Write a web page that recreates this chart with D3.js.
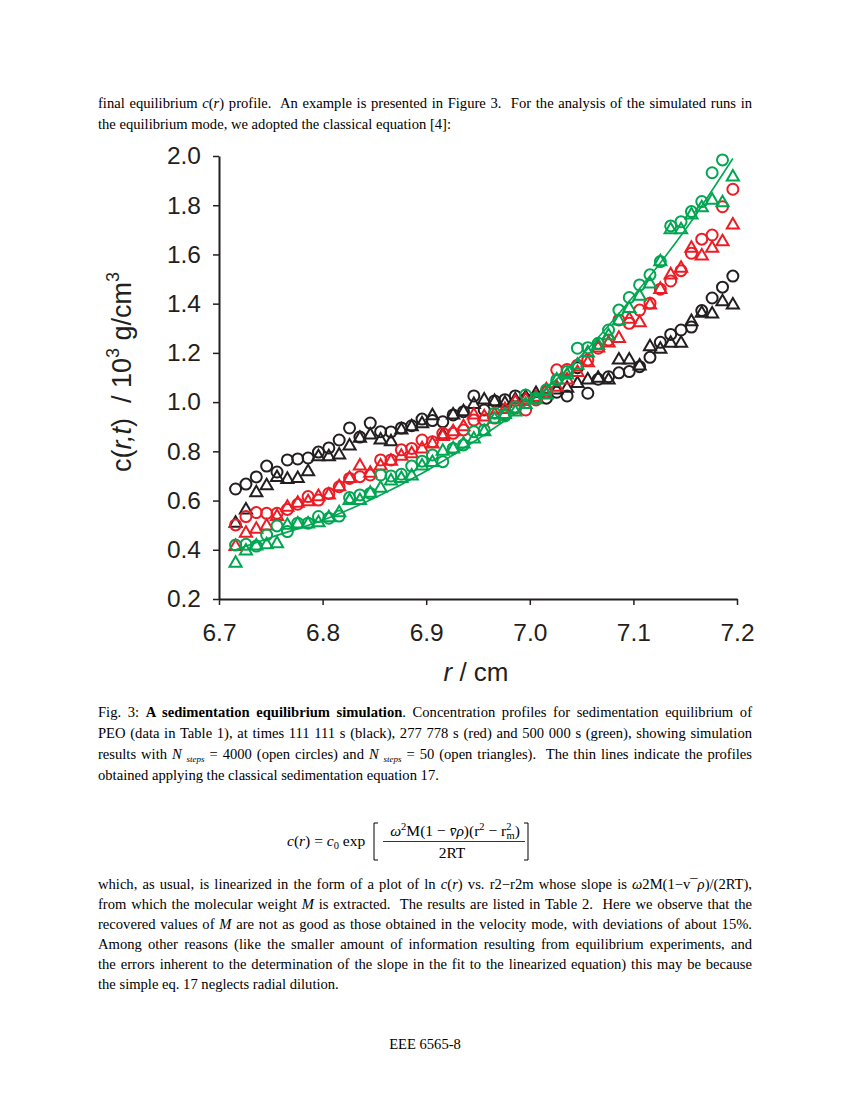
<!DOCTYPE html>
<html>
<head>
<meta charset="utf-8">
<script src="https://cdn.jsdelivr.net/npm/d3@7"></script>
<style>
body { margin: 0; background: #fff; }
#page { position: relative; width: 850px; height: 1100px; overflow: hidden; }
#page svg { position: absolute; left: 0; top: 0; }
.txt { position: absolute; left: 98px; width: 654px; font-family: 'Liberation Serif', 'Times New Roman', serif; font-size: 14.6px; line-height: 21px; color: #000; }
.ln { height: 21px; text-align: justify; text-align-last: justify; }
.ln.last { text-align-last: left; }
.st { font-size: 9px; font-style: italic; position: relative; top: 3px; }
.foot { position: absolute; left: 0; width: 850px; text-align: center; font-family: 'Liberation Serif', serif; font-size: 14.6px; }
</style>
</head>
<body>
<div id="page"></div>
<script>
'use strict';

//radial positions of the simulated points (cm)
var radii = [6.716, 6.726, 6.736, 6.746, 6.756, 6.766, 6.776, 6.786, 6.796, 6.806,
    6.816, 6.826, 6.836, 6.846, 6.856, 6.866, 6.876, 6.886, 6.896, 6.906,
    6.916, 6.926, 6.936, 6.946, 6.956, 6.966, 6.976, 6.986, 6.996, 7.006,
    7.016, 7.026, 7.036, 7.046, 7.056, 7.066, 7.076, 7.086, 7.096, 7.106,
    7.116, 7.126, 7.136, 7.146, 7.156, 7.166, 7.176, 7.186, 7.196];

//111 111 s (black)
var blackCircles = [0.647, 0.667, 0.696, 0.740, 0.716, 0.765, 0.769, 0.773, 0.797, 0.814,
    0.846, 0.895, 0.858, 0.915, 0.880, 0.879, 0.895, 0.904, 0.931, 0.925,
    0.920, 0.948, 0.961, 1.025, 0.968, 1.005, 1.010, 1.025, 1.012, 1.020,
    1.016, 1.040, 1.025, 1.140, 1.036, 1.093, 1.103, 1.119, 1.124, 1.144,
    1.182, 1.243, 1.275, 1.293, 1.305, 1.372, 1.423, 1.467, 1.512];
var blackTriangles = [0.508, 0.562, 0.632, 0.660, 0.694, 0.686, 0.690, 0.717, 0.778, 0.778,
    0.785, 0.822, 0.853, 0.866, 0.846, 0.839, 0.887, 0.900, 0.912, 0.945,
    0.866, 0.948, 0.961, 0.990, 1.009, 1.002, 0.995, 1.010, 1.020, 1.035,
    1.030, 1.049, 1.056, 1.076, 1.090, 1.097, 1.090, 1.171, 1.171, 1.147,
    1.225, 1.215, 1.239, 1.239, 1.327, 1.361, 1.358, 1.408, 1.395];

//277 778 s (red)
var redCircles = [0.501, 0.535, 0.551, 0.548, 0.548, 0.564, 0.585, 0.616, 0.602, 0.629,
    0.656, 0.690, 0.697, 0.704, 0.765, 0.765, 0.806, 0.812, 0.846, 0.839,
    0.873, 0.873, 0.887, 0.927, 0.927, 0.935, 0.950, 0.975, 0.968, 1.009,
    1.042, 1.131, 1.133, 1.150, 1.171, 1.219, 1.252, 1.334, 1.320, 1.374,
    1.402, 1.459, 1.492, 1.534, 1.605, 1.662, 1.679, 1.794, 1.865];
var redTriangles = [0.413, 0.467, 0.483, 0.497, 0.535, 0.573, 0.589, 0.595, 0.616, 0.623,
    0.656, 0.690, 0.740, 0.711, 0.740, 0.760, 0.780, 0.790, 0.810, 0.830,
    0.860, 0.880, 0.900, 0.948, 0.940, 0.950, 0.970, 1.000, 1.010, 1.020,
    1.050, 1.060, 1.090, 1.120, 1.160, 1.220, 1.240, 1.259, 1.337, 1.323,
    1.395, 1.458, 1.517, 1.544, 1.625, 1.594, 1.625, 1.652, 1.720];

//500 000 s (green)
var greenCircles = [0.419, 0.422, 0.415, 0.460, 0.497, 0.474, 0.508, 0.508, 0.535, 0.528,
    0.537, 0.612, 0.623, 0.629, 0.704, 0.700, 0.707, 0.740, 0.760, 0.785,
    0.758, 0.812, 0.826, 0.880, 0.887, 0.955, 0.944, 0.980, 1.029, 1.016,
    1.050, 1.090, 1.124, 1.219, 1.221, 1.239, 1.293, 1.374, 1.425, 1.476,
    1.517, 1.571, 1.716, 1.733, 1.774, 1.815, 1.932, 1.984, null];
var greenTriangles = [0.345, 0.395, 0.415, 0.420, 0.425, 0.500, 0.505, 0.505, 0.510, 0.530,
    0.550, 0.600, 0.600, 0.630, 0.650, 0.680, 0.690, 0.700, 0.740, 0.755,
    0.800, 0.810, 0.830, 0.850, 0.880, 0.930, 0.950, 0.960, 0.990, 1.010,
    1.030, 1.090, 1.110, 1.150, 1.200, 1.230, 1.270, 1.330, 1.380, 1.430,
    1.480, 1.570, 1.700, 1.700, 1.760, 1.790, 1.820, 1.810, 1.915];

//classical equation profile (only the green one shows)
var fitRadii = [6.716, 6.75, 6.8, 6.85, 6.9, 6.95, 7.0, 7.05, 7.1, 7.15, 7.196];
var greenFit = [0.40, 0.45, 0.52, 0.61, 0.72, 0.85, 1.00, 1.19, 1.43, 1.70, 1.99];

var xTicks = [6.7, 6.8, 6.9, 7.0, 7.1, 7.2];
var yTicks = [0.2, 0.4, 0.6, 0.8, 1.0, 1.2, 1.4, 1.6, 1.8, 2.0];

//page text, one entry per printed line
var topLines = [
    'final equilibrium <i>c</i>(<i>r</i>) profile.&nbsp; An example is presented in Figure 3.&nbsp; For the analysis of the simulated runs in',
    'the equilibrium mode, we adopted the classical equation [4]:'
];
var captionLines = [
    'Fig. 3: <b>A sedimentation equilibrium simulation</b>. Concentration profiles for sedimentation equilibrium of',
    'PEO (data in Table 1), at times 111 111 s (black), 277 778 s (red) and 500 000 s (green), showing simulation',
    'results with <i>N</i> <span class="st">steps</span> = 4000 (open circles) and <i>N</i> <span class="st">steps</span> = 50 (open triangles).&nbsp; The thin lines indicate the profiles',
    'obtained applying the classical sedimentation equation 17.'
];
var bottomLines = [
    'which, as usual, is linearized in the form of a plot of ln <i>c</i>(<i>r</i>) vs. r2\u2212r2m whose slope is <i>\u03c9</i>2M(1\u2212v\u00af<i>\u03c1</i>)/(2RT),',
    'from which the molecular weight <i>M</i> is extracted.&nbsp; The results are listed in Table 2.&nbsp; Here we observe that the',
    'recovered values of <i>M</i> are not as good as those obtained in the velocity mode, with deviations of about 15%.',
    'Among other reasons (like the smaller amount of information resulting from equilibrium experiments, and',
    'the errors inherent to the determination of the slope in the fit to the linearized equation) this may be because',
    'the simple eq. 17 neglects radial dilution.'
];

var ink = '#231f20';
var colors = {black: '#231f20', red: '#ed1c24', green: '#00a651'};
var sans = "'Liberation Sans', Arial, sans-serif";
var serif = "'Liberation Serif', 'Times New Roman', serif";

var page = d3.select('#page');
var svg = page.append('svg').attr('width', 850).attr('height', 1100);

var x = d3.scaleLinear().domain([6.7, 7.2]).range([219, 737]);
var y = d3.scaleLinear().domain([0.2, 2.0]).range([599, 156]);

//axes
function styleAxis(g) {
    g.select('.domain').attr('stroke', ink).attr('stroke-width', 2);
    g.selectAll('.tick line').attr('stroke', ink).attr('stroke-width', 1.5);
    g.selectAll('.tick text')
        .attr('fill', ink)
        .style('font-family', sans)
        .style('font-size', '24.5px');
}

svg.append('g')
    .attr('transform', 'translate(219,0)')
    .call(d3.axisLeft(y).tickValues(yTicks).tickFormat(d3.format('.1f'))
        .tickSize(6).tickSizeOuter(0).tickPadding(12))
    .call(styleAxis);

svg.append('g')
    .attr('transform', 'translate(0,599)')
    .call(d3.axisBottom(x).tickValues(xTicks).tickFormat(d3.format('.1f'))
        .tickSize(6).tickSizeOuter(0).tickPadding(19))
    .call(styleAxis);

//axis titles
var yTitle = svg.append('text')
    .attr('transform', 'translate(131,372) rotate(-90)')
    .attr('text-anchor', 'middle')
    .attr('fill', ink)
    .style('font-family', sans)
    .style('font-size', '27px')
    .style('white-space', 'pre');
yTitle.append('tspan').text('c(');
yTitle.append('tspan').style('font-style', 'italic').text('r,t');
yTitle.append('tspan').text(')  / 10');
yTitle.append('tspan').attr('dy', -12).style('font-size', '18px').text('3');
yTitle.append('tspan').attr('dy', 12).text(' g/cm');
yTitle.append('tspan').attr('dy', -12).style('font-size', '18px').text('3');

var xTitle = svg.append('text')
    .attr('x', 476)
    .attr('y', 681)
    .attr('text-anchor', 'middle')
    .attr('fill', ink)
    .style('font-family', sans)
    .style('font-size', '26px');
xTitle.append('tspan').style('font-style', 'italic').text('r');
xTitle.append('tspan').text(' / cm');

//markers
var triangle = d3.symbol().type(d3.symbolTriangle).size(64);

function drawSeries(values, color, shape) {
    var pts = radii.map(function (r, i) {
        return {r: r, c: values[i]};
    }).filter(function (d) {
        return d.c !== null;
    });
    var g = svg.append('g')
        .attr('fill', 'none')
        .attr('stroke', color)
        .attr('stroke-width', 2);
    if (shape === 'circle') {
        g.selectAll('circle').data(pts).enter().append('circle')
            .attr('cx', function (d) { return x(d.r); })
            .attr('cy', function (d) { return y(d.c); })
            .attr('r', 5.5);
    } else {
        g.selectAll('path').data(pts).enter().append('path')
            .attr('d', triangle)
            .attr('transform', function (d) {
                return 'translate(' + x(d.r) + ',' + y(d.c) + ')';
            });
    }
}

drawSeries(blackTriangles, colors.black, 'triangle');
drawSeries(blackCircles, colors.black, 'circle');
drawSeries(redTriangles, colors.red, 'triangle');
drawSeries(redCircles, colors.red, 'circle');
drawSeries(greenTriangles, colors.green, 'triangle');
drawSeries(greenCircles, colors.green, 'circle');

//thin profile line
var fitLine = d3.line()
    .x(function (d) { return x(d[0]); })
    .y(function (d) { return y(d[1]); })
    .curve(d3.curveMonotoneX);
svg.append('path')
    .datum(d3.zip(fitRadii, greenFit))
    .attr('d', fitLine)
    .attr('fill', 'none')
    .attr('stroke', colors.green)
    .attr('stroke-width', 1.6);

//equation
var eq = svg.append('g')
    .attr('fill', '#000')
    .style('font-family', serif)
    .style('font-size', '15.5px')
    .style('white-space', 'pre');

var lhs = eq.append('text').attr('x', 287).attr('y', 846);
lhs.append('tspan').style('font-style', 'italic').text('c');
lhs.append('tspan').text('(');
lhs.append('tspan').style('font-style', 'italic').text('r');
lhs.append('tspan').text(') = ');
lhs.append('tspan').style('font-style', 'italic').text('c');
lhs.append('tspan').attr('dy', 3).style('font-size', '10.5px').text('0');
lhs.append('tspan').attr('dy', -3).text(' exp');

var num = eq.append('text').attr('x', 455).attr('y', 836).attr('text-anchor', 'middle');
num.append('tspan').style('font-style', 'italic').text('\u03c9');
num.append('tspan').attr('dy', -6).style('font-size', '10.5px').text('2');
num.append('tspan').attr('dy', 6).text('M(1 \u2212 ');
num.append('tspan').style('font-style', 'italic').text('v\u0304\u03c1');
num.append('tspan').text(')(r');
num.append('tspan').attr('dy', -6).style('font-size', '10.5px').text('2');
num.append('tspan').attr('dy', 6).text(' \u2212 r');
num.append('tspan').attr('dy', -6).style('font-size', '10.5px').text('2');
num.append('tspan').attr('dx', -5).attr('dy', 9).style('font-size', '10.5px').text('m');
num.append('tspan').attr('dy', -3).text(')');

eq.append('text').attr('x', 452).attr('y', 858).attr('text-anchor', 'middle').text('2RT');

eq.append('line')
    .attr('x1', 383).attr('x2', 525)
    .attr('y1', 841.5).attr('y2', 841.5)
    .attr('stroke', '#000').attr('stroke-width', 0.8);
eq.append('path')
    .attr('d', 'M378,823H374V860H378M524,823H528V860H524')
    .attr('fill', 'none')
    .attr('stroke', '#000')
    .attr('stroke-width', 1);

//paragraphs
function writeBlock(lines, centerY, spacing) {
    var block = page.append('div')
        .attr('class', 'txt')
        .style('top', (centerY - spacing / 2) + 'px');
    block.selectAll('.ln').data(lines).enter().append('div')
        .attr('class', function (d, i) {
            return i === lines.length - 1 ? 'ln last' : 'ln';
        })
        .style('height', spacing + 'px')
        .style('line-height', spacing + 'px')
        .html(function (d) { return d; });
}

writeBlock(topLines, 103, 21);
writeBlock(captionLines, 712, 21);
writeBlock(bottomLines, 884, 20);

page.append('div')
    .attr('class', 'foot')
    .style('top', '1036px')
    .text('EEE 6565-8');
</script>
</body>
</html>
